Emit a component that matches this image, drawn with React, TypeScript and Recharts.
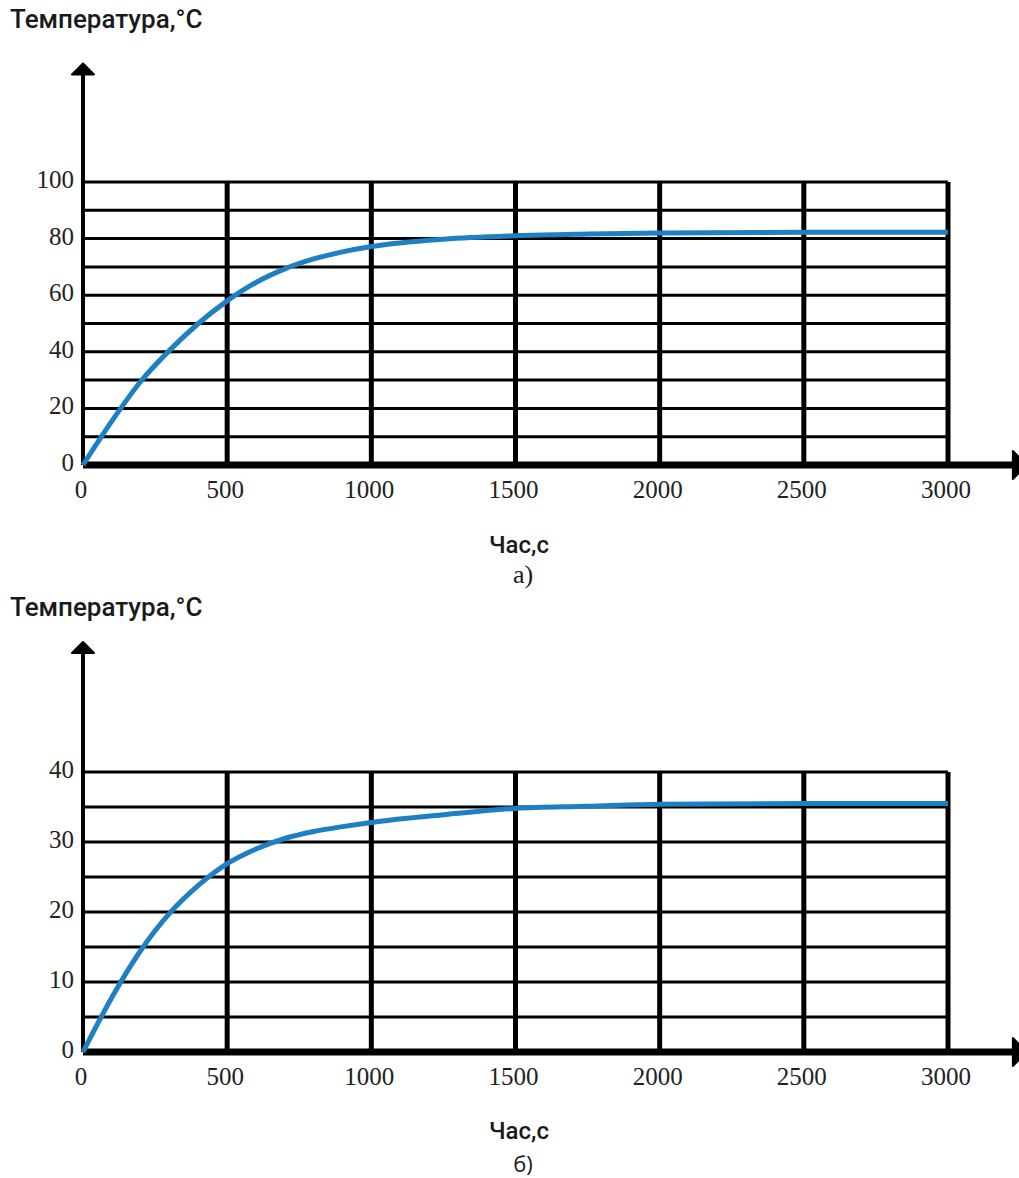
import React from 'react';
import { LineChart, Line, XAxis, YAxis, ReferenceLine } from 'recharts';

// час, с
const times = [0, 100, 200, 300, 400, 500, 600, 700, 800, 900, 1000, 1250, 1500, 1750, 2000, 2500, 3000];
// температура, °C — графік а)
const tempA = [0, 15.5, 29.5, 40.5, 50, 58, 64.5, 69.3, 72.8, 75.3, 77.2, 79.8, 81, 81.6, 82, 82.2, 82.2];
// температура, °C — графік б)
const tempB = [0, 7.8, 14.5, 19.8, 23.8, 26.9, 29, 30.5, 31.5, 32.2, 32.8, 33.9, 34.8, 35.1, 35.4, 35.5, 35.5];

const xTicks = [0, 500, 1000, 1500, 2000, 2500, 3000];
const yTicksA = [0, 20, 40, 60, 80, 100];
const yGridA = [10, 20, 30, 40, 50, 60, 70, 80, 90, 100];
const yTicksB = [0, 10, 20, 30, 40];
const yGridB = [5, 10, 15, 20, 25, 30, 35, 40];

const dataA = times.map((t, i) => ({ t, v: tempA[i] }));
const dataB = times.map((t, i) => ({ t, v: tempB[i] }));

const W = 1019;
const SERIF = '"Liberation Serif", "DejaVu Serif", serif';
const SANS = 'Roboto, "Noto Sans", sans-serif';

function Arrow(props: any) {
  const { x1, y1, x2, y2, stroke, strokeWidth, headLen, headHalf } = props;
  const dx = x2 - x1;
  const dy = y2 - y1;
  const len = Math.sqrt(dx * dx + dy * dy) || 1;
  const ux = dx / len;
  const uy = dy / len;
  const tipX = x2 + ux * headLen;
  const tipY = y2 + uy * headLen;
  const ax = x2 - uy * headHalf;
  const ay = y2 + ux * headHalf;
  const bx = x2 + uy * headHalf;
  const by = y2 - ux * headHalf;
  return (
    <g>
      <line x1={x1} y1={y1} x2={x2} y2={y2} stroke={stroke} strokeWidth={strokeWidth} />
      <polygon points={`${ax},${ay} ${tipX},${tipY} ${bx},${by}`} fill={stroke} stroke={stroke} strokeWidth={2} strokeLinejoin="round" />
    </g>
  );
}

const XTick = (props: any) => {
  const { x, y, payload } = props;
  return (
    <text x={x - 2} y={y} textAnchor="middle" fontFamily={SERIF} fontSize={25} fill="#222">
      {payload.value}
    </text>
  );
};

const YTick = (props: any) => {
  const { x, y, payload } = props;
  return (
    <text x={x} y={y + 6} textAnchor="end" fontFamily={SERIF} fontSize={25} fill="#222">
      {payload.value}
    </text>
  );
};

interface PanelProps {
  data: { t: number; v: number }[];
  yMax: number;
  yTicks: number[];
  yGrid: number[];
  yArrow: number;
  height: number;
  plotBottom: number;
  caption: string;
  captionFont: string;
  captionSize: number;
  captionY: number;
  xLabelY: number;
  labelY: number;
}

function Panel({ data, yMax, yTicks, yGrid, yArrow, height, plotBottom, caption, captionFont, captionSize, captionY, xLabelY, labelY }: PanelProps) {
  const top = 182;
  return (
    <div style={{ position: 'relative', width: W, height }}>
      <LineChart width={W} height={height} data={data} margin={{ top, right: 71, left: 0, bottom: 0 }}>
        <XAxis
          dataKey="t"
          type="number"
          domain={[0, 3000]}
          ticks={xTicks}
          axisLine={false}
          tickLine={false}
          height={height - plotBottom}
          tickSize={0}
          tickMargin={33}
          tick={<XTick />}
          interval={0}
        />
        <YAxis
          type="number"
          domain={[0, yMax]}
          ticks={yTicks}
          axisLine={false}
          tickLine={false}
          width={83}
          tickSize={0}
          tickMargin={9}
          tick={<YTick />}
          interval={0}
        />
        {yGrid.map((g) => (
          <ReferenceLine key={`h-${g}`} y={g} stroke="#000" strokeWidth={3} />
        ))}
        {xTicks.slice(1).map((g) => (
          <ReferenceLine key={`v-${g}`} x={g} stroke="#000" strokeWidth={5} />
        ))}
        <ReferenceLine
          segment={[{ x: 0, y: 0 }, { x: 0, y: yArrow }]}
          ifOverflow="visible"
          stroke="#000"
          strokeWidth={4}
          shape={(p: any) => <Arrow {...p} stroke="#000" strokeWidth={4} headLen={11} headHalf={11} />}
        />
        <ReferenceLine
          segment={[{ x: 0, y: 0 }, { x: 3225, y: 0 }]}
          ifOverflow="visible"
          stroke="#000"
          strokeWidth={7}
          shape={(p: any) => <Arrow {...p} stroke="#000" strokeWidth={7} headLen={14} headHalf={14} />}
        />
        <Line
          type="monotone"
          dataKey="v"
          stroke="#1d80c3"
          strokeWidth={5}
          dot={false}
          isAnimationActive={false}
        />
      </LineChart>
      <svg width={W} height={height} style={{ position: 'absolute', left: 0, top: 0, pointerEvents: 'none' }}>
        <text x={10} y={labelY} fontFamily={SANS} fontWeight={500} fontSize={26} fill="#1a1a1a">
          Температура,°C
        </text>
        <text x={519} y={xLabelY} textAnchor="middle" fontFamily={SANS} fontWeight={500} fontSize={24} fill="#1a1a1a">
          Час,с
        </text>
        <text x={523} y={captionY} textAnchor="middle" fontFamily={captionFont} fontSize={captionSize} fill="#1a1a1a">
          {caption}
        </text>
      </svg>
    </div>
  );
}

export default function App() {
  return (
    <div style={{ position: 'absolute', left: 0, top: 0, width: W, height: 1178, background: '#fff', overflow: 'hidden' }}>
      <Panel data={dataA} yMax={100} yTicks={yTicksA} yGrid={yGridA} yArrow={138} height={590} plotBottom={465} caption="а)" captionFont={SERIF} captionSize={26} captionY={583} xLabelY={553} labelY={28} />
      <Panel data={dataB} yMax={40} yTicks={yTicksB} yGrid={yGridB} yArrow={57} height={588} plotBottom={462} caption="б)" captionFont={'"Open Sans", sans-serif'} captionSize={22} captionY={582} xLabelY={549} labelY={26} />
    </div>
  );
}
